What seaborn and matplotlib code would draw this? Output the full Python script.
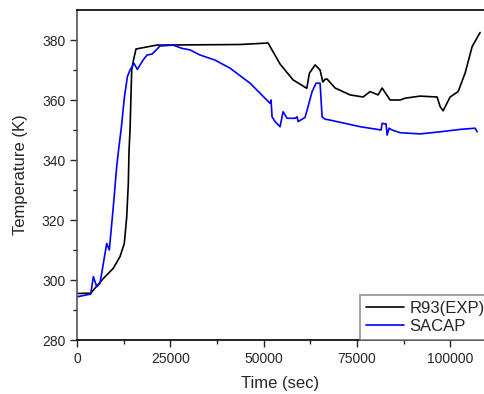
import seaborn as sns
import matplotlib.pyplot as plt
import numpy as np
import pandas as pd

timeExp = [0, 3670, 7050, 9720, 11520, 12670, 13310, 13740, 13930, 14200, 14650, 15080, 15800,
           21350, 32950, 43670, 51170, 54380, 57870, 61540, 62230, 63760, 65100, 65820, 66440,
           66970, 69120, 73130, 76620, 78490, 80640, 81710, 83850, 86530, 87870, 91890, 96440,
           97250, 98050, 99930, 102070, 103950, 105820, 107960]
tempExp = [295.5, 295.6, 300.5, 303.9, 307.8, 312.2, 321, 332, 343, 350, 370, 373, 377,
           378.3, 378.4, 378.5, 379, 372, 366.7, 363.9, 368.9, 371.7, 370, 366, 366.9,
           367, 364, 361.7, 361, 362.8, 361.7, 364, 360, 360, 360.6, 361.3, 361,
           357.8, 356.4, 361, 362.8, 369, 377.8, 382.5]

# SACAP simulation
timeSim = [0, 3670, 4380, 5280, 6160, 7960, 8650, 9720, 10630, 11160, 11890, 12700, 13500,
           14200, 15270, 16160, 17690, 18760, 20100, 22240, 25720, 28130, 30270, 32950, 36970,
           40990, 46350, 51700, 51970, 52240, 53040, 54380, 55190, 56260, 58400, 58940, 59210,
           61080, 61880, 62960, 64030, 65100, 65640, 66440, 67780, 75820, 81440, 81710, 82780,
           83050, 83580, 84390, 86530, 91890, 97250, 102600, 106620, 107160]
tempSim = [294.4, 295.3, 301.1, 297.8, 298.9, 312.2, 310, 324.4, 337.8, 343.6, 351, 361, 367.8,
           370, 372.2, 370.2, 373.3, 375, 375.3, 378, 378.3, 377.2, 376.7, 375, 373.3,
           370.6, 365.6, 358.9, 360, 354.4, 352.8, 351.1, 356.1, 353.9, 353.9, 354.4, 352.8,
           354.2, 357.8, 362.8, 365.6, 365.6, 354.4, 353.6, 353.3, 351.1, 350, 352.2, 352,
           348.3, 350.6, 350, 349.1, 348.7, 349.4, 350.2, 350.6, 349.4]

labels = ['R93(EXP)', 'SACAP']

data = pd.DataFrame({
    'time': timeExp + timeSim,
    'temp': tempExp + tempSim,
    'case': [labels[0]] * len(timeExp) + [labels[1]] * len(timeSim),
})

sns.set_style('white')
plt.rcParams['font.family'] = ['Liberation Sans', 'DejaVu Sans']

fig = plt.figure(figsize=(4.84, 3.94), dpi=100)
ax = fig.add_axes([77 / 484, 54 / 394, 407 / 484, 330 / 394])

sns.lineplot(data=data, x='time', y='temp', hue='case', palette=['black', '#0000FF'],
             estimator=None, sort=False, linewidth=1.2, ax=ax)

ax.set_xlim(0, 109000)
ax.set_ylim(280, 390)
ax.set_xticks([0, 25000, 50000, 75000, 100000])
ax.set_xticks([12500, 37500, 62500, 87500], minor=True)
ax.set_yticks([280, 300, 320, 340, 360, 380])
ax.set_yticks([290, 310, 330, 350, 370], minor=True)
ax.tick_params(which='major', direction='out', length=5, width=1, labelsize=10, left=True, bottom=True)
ax.tick_params(which='minor', direction='out', length=3, width=1, left=True, bottom=True)
ax.set_xlabel('Time (sec)', fontsize=12, labelpad=7)
ax.set_ylabel('Temperature (K)', fontsize=12, labelpad=10)

for side in ['left', 'bottom', 'top']:
    ax.spines[side].set_color('black')
    ax.spines[side].set_linewidth(1.2)
ax.spines['left'].set_color('#555555')
ax.spines['right'].set_visible(False)

leg = ax.legend(loc='lower left', bbox_to_anchor=((360 - 77) / 407, 0), fontsize=12,
                frameon=True, fancybox=False, borderpad=0.35, labelspacing=0.2,
                handlelength=2.3, handletextpad=0.3, borderaxespad=0)
leg.get_frame().set_edgecolor('#777777')
leg.get_frame().set_linewidth(1.2)
for line in leg.get_lines():
    line.set_linewidth(1.2)

plt.savefig('out.png', dpi=100)
